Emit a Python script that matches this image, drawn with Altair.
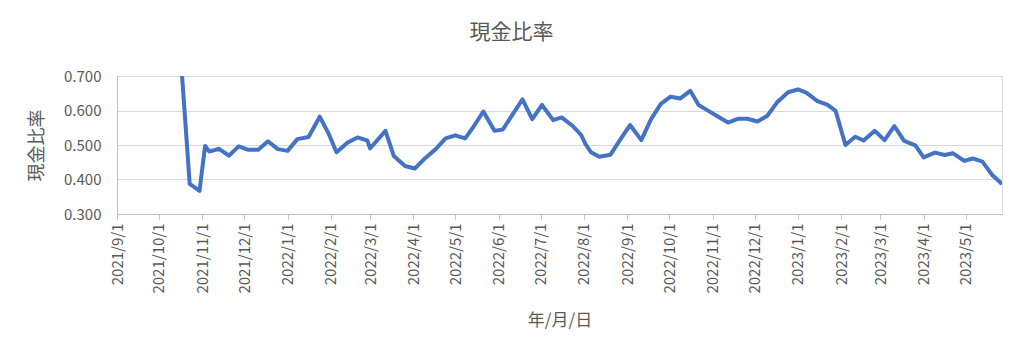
import altair as alt
import pandas as pd

dates = [
    "2021-10-16", "2021-10-23", "2021-10-30", "2021-11-03", "2021-11-06", "2021-11-13",
    "2021-11-20", "2021-11-27", "2021-12-04", "2021-12-11", "2021-12-18", "2021-12-25",
    "2022-01-01", "2022-01-08", "2022-01-16", "2022-01-24", "2022-01-30", "2022-02-05",
    "2022-02-13", "2022-02-20", "2022-02-27", "2022-03-01", "2022-03-12", "2022-03-18",
    "2022-03-26", "2022-04-02", "2022-04-10", "2022-04-17", "2022-04-24", "2022-05-01",
    "2022-05-08", "2022-05-14", "2022-05-21", "2022-05-29", "2022-06-04", "2022-06-11",
    "2022-06-18", "2022-06-25", "2022-07-02", "2022-07-10", "2022-07-16", "2022-07-24",
    "2022-07-30", "2022-08-02", "2022-08-06", "2022-08-12", "2022-08-20", "2022-08-28",
    "2022-09-03", "2022-09-11", "2022-09-18", "2022-09-25", "2022-10-02", "2022-10-09",
    "2022-10-16", "2022-10-22", "2022-10-29", "2022-11-05", "2022-11-12", "2022-11-19",
    "2022-11-26", "2022-12-03", "2022-12-10", "2022-12-17", "2022-12-25", "2023-01-01",
    "2023-01-07", "2023-01-15", "2023-01-22", "2023-01-28", "2023-02-04", "2023-02-11",
    "2023-02-17", "2023-02-25", "2023-03-04", "2023-03-11", "2023-03-18", "2023-03-26",
    "2023-04-01", "2023-04-09", "2023-04-16", "2023-04-22", "2023-04-30", "2023-05-06",
    "2023-05-13", "2023-05-20", "2023-05-27",
]
ratios = [
    0.790, 0.387, 0.367, 0.497, 0.481, 0.489,
    0.469, 0.496, 0.486, 0.486, 0.511, 0.488,
    0.483, 0.517, 0.523, 0.582, 0.536, 0.479,
    0.507, 0.522, 0.513, 0.490, 0.541, 0.468,
    0.439, 0.432, 0.464, 0.488, 0.519, 0.528,
    0.519, 0.553, 0.597, 0.541, 0.545, 0.589,
    0.632, 0.575, 0.616, 0.572, 0.580, 0.555,
    0.529, 0.503, 0.479, 0.466, 0.472, 0.522,
    0.558, 0.514, 0.575, 0.619, 0.640, 0.635,
    0.657, 0.616, 0.599, 0.582, 0.565, 0.576,
    0.576, 0.568, 0.584, 0.623, 0.653, 0.661,
    0.652, 0.627, 0.617, 0.599, 0.500, 0.524,
    0.513, 0.541, 0.514, 0.555, 0.512, 0.499,
    0.464, 0.478, 0.471, 0.476, 0.454, 0.461,
    0.452, 0.413, 0.387,
]
month_ticks = [
    (2021, 9), (2021, 10), (2021, 11), (2021, 12), (2022, 1), (2022, 2), (2022, 3),
    (2022, 4), (2022, 5), (2022, 6), (2022, 7), (2022, 8), (2022, 9), (2022, 10),
    (2022, 11), (2022, 12), (2023, 1), (2023, 2), (2023, 3), (2023, 4), (2023, 5),
]
y_ticks = [0.30, 0.35, 0.40, 0.45, 0.50, 0.55, 0.60, 0.65, 0.70]

df = pd.DataFrame({"date": dates, "ratio": ratios})

TEXT = "#595959"
FONT = "Noto Sans CJK JP"

x_axis = alt.Axis(
    values=[alt.DateTime(year=y, month=m, date=1, utc=True) for y, m in month_ticks],
    labelExpr="utcFormat(datum.value, '%Y/%-m/%-d')",
    labelAngle=-90,
    labelAlign="right",
    labelBaseline="middle",
    labelFont=FONT,
    labelFontSize=15,
    labelColor=TEXT,
    labelPadding=4,
    labelOverlap=False,
    tickSize=5,
    tickColor="#BFBFBF",
    domainColor="#BFBFBF",
    grid=False,
    title="年/月/日",
    titleFont=FONT,
    titleFontSize=17,
    titleFontWeight="normal",
    titleColor=TEXT,
    titlePadding=19,
)

y_axis = alt.Axis(
    values=y_ticks,
    labelExpr="round(datum.value*100) % 10 == 0 ? format(datum.value, '.3f') : ''",
    labelFont=FONT,
    labelFontSize=15,
    labelColor=TEXT,
    labelPadding=16,
    ticks=False,
    domainColor="#BFBFBF",
    gridColor="#D9D9D9",
    gridOpacity={"condition": {"test": "round(datum.value*100) % 10 == 0", "value": 1}, "value": 0},
    title="現金比率",
    titleFont=FONT,
    titleFontSize=18,
    titleFontWeight="normal",
    titleColor=TEXT,
    titlePadding=17,
)

chart = (
    alt.Chart(df)
    .mark_line(color="#4472C4", strokeWidth=4, clip=True, strokeJoin="round")
    .encode(
        x=alt.X(
            "date:T",
            scale=alt.Scale(
                type="utc",
                domain=[
                    alt.DateTime(year=2021, month=9, date=1, utc=True),
                    alt.DateTime(year=2023, month=5, date=27, utc=True),
                ],
            ),
            axis=x_axis,
        ),
        y=alt.Y("ratio:Q", scale=alt.Scale(domain=[0.3, 0.7], zero=False), axis=y_axis),
    )
    .properties(
        width=885,
        height=138,
        autosize=alt.AutoSizeParams(type="none"),
        padding={"left": 109, "top": 68, "right": 14, "bottom": 139},
        title=alt.TitleParams(
            "現金比率",
            font=FONT,
            fontSize=21,
            fontWeight="normal",
            color=TEXT,
            anchor="middle",
            dx=-48,
            offset=26,
        ),
    )
    .configure_view(stroke=None)
    .configure(background="white")
)

chart.save("out.html", embed_options={"renderer": "svg", "actions": False})
